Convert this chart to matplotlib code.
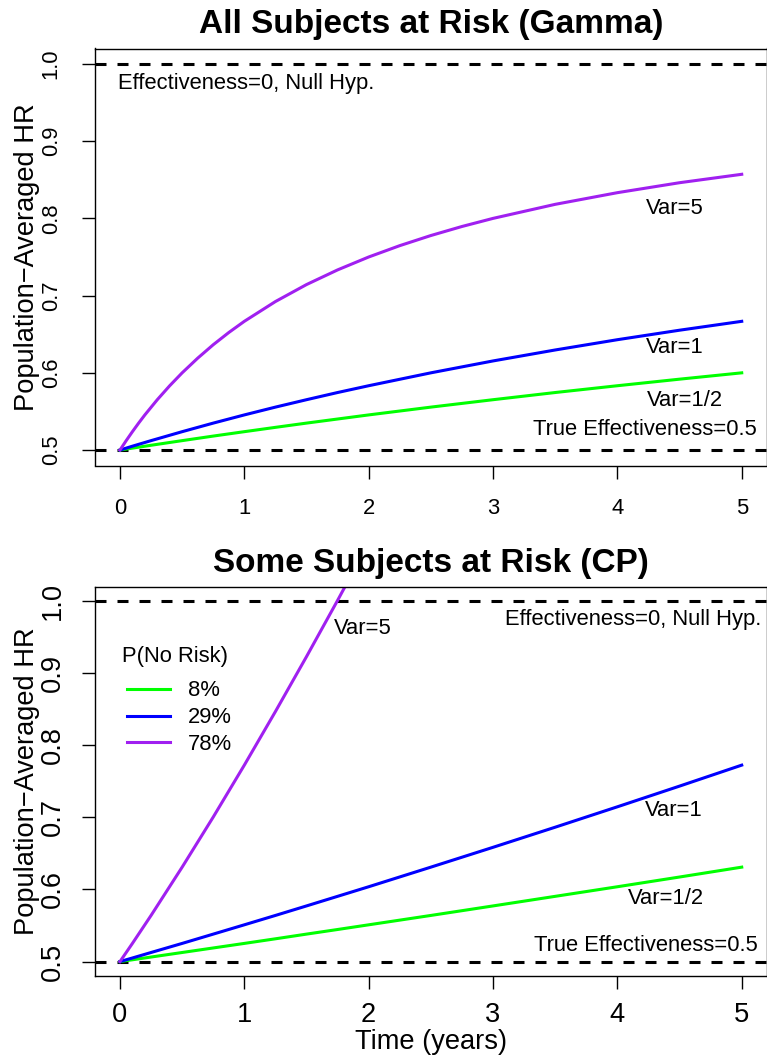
"""
Population-averaged hazard ratio over time under two frailty models:
gamma frailty (all subjects at risk) and compound Poisson frailty
(some subjects never at risk). True effectiveness 0.5, null at 1.0.
"""

import matplotlib.pyplot as plt

plt.rcParams["font.family"] = ["Liberation Sans", "DejaVu Sans"]

# --- data ------------------------------------------------------------
TIME = [0, 0.1, 0.25, 0.5, 0.75, 1, 1.25, 1.5, 1.75, 2,
        2.5, 3, 3.5, 4, 4.5, 5]

# gamma frailty, variance 1/2 and 1
GAMMA_HALF = [0.5, 0.5025, 0.5062, 0.5122, 0.5181, 0.5238, 0.5294, 0.5349,
              0.5402, 0.5455, 0.5556, 0.5652, 0.5745, 0.5833, 0.5918, 0.6]
GAMMA_ONE = [0.5, 0.5050, 0.5122, 0.5238, 0.5349, 0.5455, 0.5556, 0.5652,
             0.5745, 0.5833, 0.6, 0.6154, 0.6296, 0.6429, 0.6552, 0.6667]

# gamma frailty, variance 5 (bends sharply, so read on a finer grid)
TIME_FINE = [0, 0.05, 0.1, 0.15, 0.2, 0.3, 0.4, 0.5, 0.625, 0.75, 0.875, 1,
             1.25, 1.5, 1.75, 2, 2.25, 2.5, 2.75, 3, 3.5, 4, 4.5, 5]
GAMMA_FIVE = [0.5, 0.5122, 0.5238, 0.5349, 0.5455, 0.5652, 0.5833, 0.6,
              0.6190, 0.6364, 0.6522, 0.6667, 0.6923, 0.7143, 0.7333, 0.75,
              0.7647, 0.7778, 0.7895, 0.8, 0.8182, 0.8333, 0.8462, 0.8571]

# compound Poisson frailty, variance 1/2, 1, 5
CP_HALF = [0.5, 0.5025, 0.5063, 0.5126, 0.5189, 0.5252, 0.5316, 0.5381,
           0.5445, 0.5510, 0.5640, 0.5772, 0.5905, 0.6038, 0.6173, 0.6310]
CP_ONE = [0.5, 0.5050, 0.5126, 0.5252, 0.5381, 0.5510, 0.5640, 0.5772,
          0.5905, 0.6038, 0.6310, 0.6585, 0.6864, 0.7147, 0.7434, 0.7725]
CP_FIVE = [0.5, 0.5252, 0.5640, 0.6310, 0.7005, 0.7725, 0.8468, 0.9230,
           1.0010, 1.0807, 1.244, 1.412, 1.583, 1.757, 1.932, 2.107]

P_NO_RISK = ["8%", "29%", "78%"]
COLORS = ["#00FF00", "#0000FF", "#A020F0"]

NULL_HR = 1.0
TRUE_HR = 0.5
XTICKS = [0, 1, 2, 3, 4, 5]
YTICKS = [0.5, 0.6, 0.7, 0.8, 0.9, 1.0]

W, H = 767, 1063
LW = 2.2
DASH = (0, (3.6, 3.6))
TXT = 15.8


def setup(ax, title, tick_size, xpad, ypad):
    ax.set_xlim(-0.2, 5.2)
    ax.set_ylim(0.48, 1.02)
    ax.axhline(NULL_HR, color="black", lw=LW, linestyle=DASH)
    ax.axhline(TRUE_HR, color="black", lw=LW, linestyle=DASH)
    ax.set_xticks(XTICKS, [str(v) for v in XTICKS], fontsize=tick_size)
    ax.set_yticks(YTICKS, [f"{v:.1f}" for v in YTICKS], fontsize=tick_size,
                  rotation=90, va="center")
    ax.tick_params(axis="x", length=9.5, width=1, pad=xpad)
    ax.tick_params(axis="y", length=9.5, width=1, pad=ypad)
    for s in ax.spines.values():
        s.set_linewidth(1.0)
    ax.set_title(title, fontsize=24, fontweight="bold", pad=10.8)


fig = plt.figure(figsize=(W / 100, H / 100), dpi=100)
ax1 = fig.add_axes([95.1 / W, 1 - 465.5 / H, 671.5 / W, 417 / H])
ax2 = fig.add_axes([95.1 / W, 1 - 976 / H, 671.5 / W, 389.3 / H])

# --- top: gamma frailty -----------------------------------------------
setup(ax1, "All Subjects at Risk (Gamma)", 15.8, 13.8, 14.6)
ax1.plot(TIME, GAMMA_HALF, color=COLORS[0], lw=LW)
ax1.plot(TIME, GAMMA_ONE, color=COLORS[1], lw=LW)
ax1.plot(TIME_FINE, GAMMA_FIVE, color=COLORS[2], lw=LW)
ax1.text(-0.016, 0.975, "Effectiveness=0, Null Hyp.", fontsize=TXT,
         ha="left", va="center")
ax1.text(4.46, 0.813, "Var=5", fontsize=TXT, ha="center", va="center")
ax1.text(4.46, 0.633, "Var=1", fontsize=TXT, ha="center", va="center")
ax1.text(4.54, 0.564, "Var=1/2", fontsize=TXT, ha="center", va="center")
ax1.text(5.12, 0.527, "True Effectiveness=0.5", fontsize=TXT,
         ha="right", va="center")

# --- bottom: compound Poisson frailty ---------------------------------
setup(ax2, "Some Subjects at Risk (CP)", 19.6, 9.5, 11.5)
for ys, c, lab in zip([CP_HALF, CP_ONE, CP_FIVE], COLORS, P_NO_RISK):
    ax2.plot(TIME, ys, color=c, lw=LW, label=lab)
ax2.text(5.157, 0.974, "Effectiveness=0, Null Hyp.", fontsize=TXT,
         ha="right", va="center")
ax2.text(1.95, 0.9625, "Var=5", fontsize=TXT, ha="center", va="center")
ax2.text(4.45, 0.71, "Var=1", fontsize=TXT, ha="center", va="center")
ax2.text(4.39, 0.587, "Var=1/2", fontsize=TXT, ha="center", va="center")
ax2.text(5.13, 0.523, "True Effectiveness=0.5", fontsize=TXT,
         ha="right", va="center")
ax2.text(0.040, 1 - (656.7 - 586.7) / 389.3, "P(No Risk)", fontsize=TXT,
         ha="left", va="center", transform=ax2.transAxes)
ax2.legend(loc="center left", bbox_to_anchor=(0.0474, 1 - (717.7 - 586.7) / 389.3),
           frameon=False, fontsize=TXT, handlelength=1.96, handletextpad=0.82,
           labelspacing=0.26, borderpad=0, borderaxespad=0)

fig.text(431 / W, 1 - 1041.7 / H, "Time (years)", fontsize=19.6,
         ha="center", va="center")
for ax in (ax1, ax2):
    bb = ax.get_position()
    fig.text(27 / W, bb.y0 + bb.height / 2, "Population−Averaged HR",
             fontsize=19.6, rotation=90, ha="center", va="center")

fig.savefig("out.png", dpi=100)
